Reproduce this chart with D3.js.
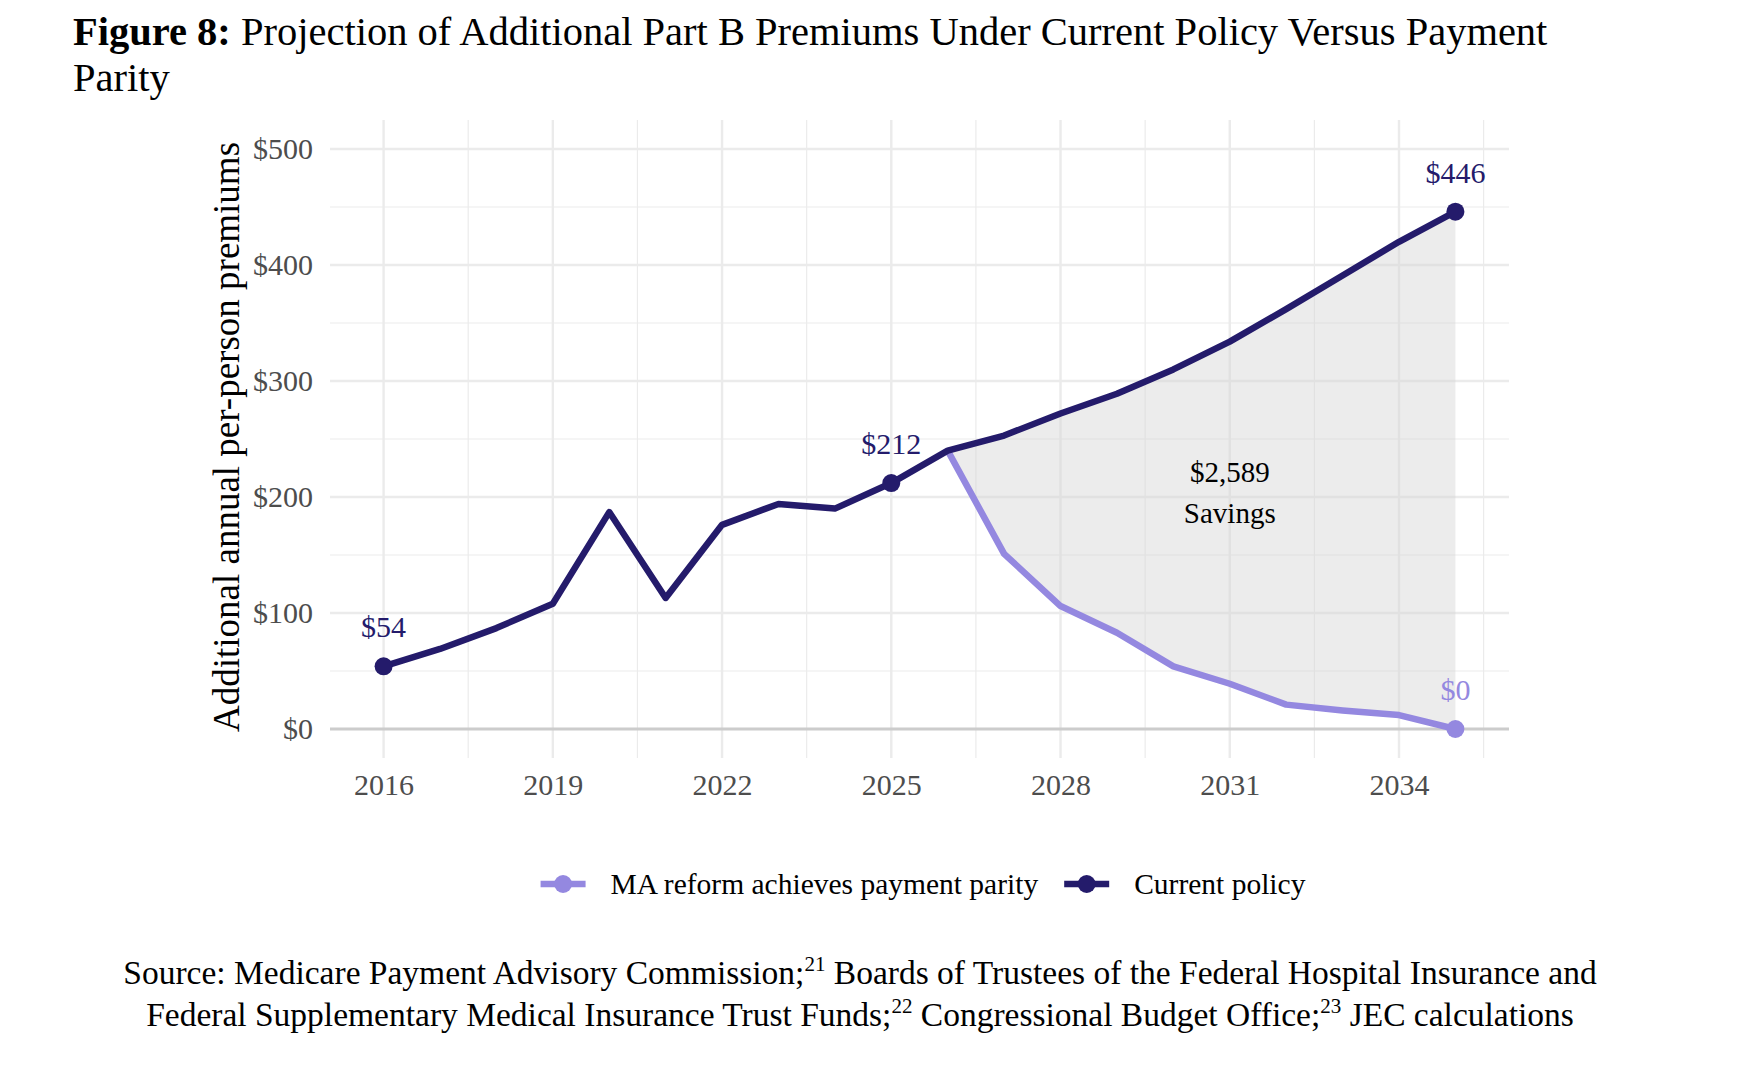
<!DOCTYPE html>
<html>
<head>
<meta charset="utf-8">
<script src="https://cdn.jsdelivr.net/npm/d3@7.9.0/dist/d3.min.js"></script>
<style>
  body { margin: 0; background: #fff; }
  svg { font-family: "Liberation Serif", "Times New Roman", serif; }
</style>
</head>
<body>
<svg width="1742" height="1076"></svg>
<script>
// years and series values
const years = d3.range(2016, 2036);
const currentPolicy = [54, 69, 87, 108, 187, 113, 176, 194, 190, 212,
  240, 253, 272, 289, 310, 334, 362, 391, 420, 446];
const reformYears = d3.range(2026, 2036);
const maReform = [240, 151, 106, 83, 54, 39, 21, 16, 12, 0];
const xTicks = [2016, 2019, 2022, 2025, 2028, 2031, 2034];
const yTicks = [0, 100, 200, 300, 400, 500];
const labelYears = [2016, 2025, 2035];

const navy = '#241b6b';
const lavender = '#9488e0';

const svg = d3.select('svg');
const x = d3.scaleLinear().domain([2015.05, 2035.95]).range([330, 1509]);
const y = d3.scaleLinear().domain([-25, 525]).range([758, 120]);

const cur = years.map((yr, i) => ({ year: yr, value: currentPolicy[i] }));
const ma = reformYears.map((yr, i) => ({ year: yr, value: maReform[i] }));

// Title
const title = svg.append('text').attr('x', 73).attr('y', 45)
  .attr('font-size', 40.5).attr('fill', '#000');
title.append('tspan').attr('font-weight', 'bold').text('Figure 8:');
title.append('tspan').text(' Projection of Additional Part B Premiums Under Current Policy Versus Payment');
svg.append('text').attr('x', 73).attr('y', 91).attr('font-size', 40.5).text('Parity');

// grid
const grid = svg.append('g');
const xMinor = d3.range(2017.5, 2036, 3);
const yMinor = d3.range(50, 500, 100);
grid.selectAll('.vmin').data(xMinor).join('line')
  .attr('x1', d => x(d)).attr('x2', d => x(d))
  .attr('y1', y.range()[1]).attr('y2', y.range()[0])
  .attr('stroke', '#ebebeb').attr('stroke-width', 1.2);
grid.selectAll('.hmin').data(yMinor).join('line')
  .attr('x1', x.range()[0]).attr('x2', x.range()[1])
  .attr('y1', d => y(d)).attr('y2', d => y(d))
  .attr('stroke', '#ebebeb').attr('stroke-width', 1.2);
grid.selectAll('.vmaj').data(xTicks).join('line')
  .attr('x1', d => x(d)).attr('x2', d => x(d))
  .attr('y1', y.range()[1]).attr('y2', y.range()[0])
  .attr('stroke', '#ebebeb').attr('stroke-width', 2.4);
grid.selectAll('.hmaj').data(yTicks.filter(d => d > 0)).join('line')
  .attr('x1', x.range()[0]).attr('x2', x.range()[1])
  .attr('y1', d => y(d)).attr('y2', d => y(d))
  .attr('stroke', '#ebebeb').attr('stroke-width', 2.4);

// savings ribbon
const ribbon = ma.map(d => ({ year: d.year, lo: d.value, hi: cur.find(c => c.year === d.year).value }));
svg.append('path').datum(ribbon)
  .attr('d', d3.area().x(d => x(d.year)).y0(d => y(d.lo)).y1(d => y(d.hi)))
  .attr('fill', '#d4d4d4').attr('opacity', 0.45);

// zero line
svg.append('line').attr('x1', x.range()[0]).attr('x2', x.range()[1])
  .attr('y1', y(0)).attr('y2', y(0)).attr('stroke', '#cccccc').attr('stroke-width', 3);

// axes
const xAxis = svg.append('g').attr('transform', `translate(0,${y.range()[0] + 13})`)
  .call(d3.axisBottom(x).tickValues(xTicks).tickFormat(d3.format('d')).tickSize(0));
xAxis.select('.domain').remove();
xAxis.selectAll('text').attr('font-family', '"Liberation Serif", serif')
  .attr('font-size', 30).attr('fill', '#4d4d4d').attr('dy', '0.71em');

const yAxis = svg.append('g').attr('transform', `translate(${x.range()[0] - 14},0)`)
  .call(d3.axisLeft(y).tickValues(yTicks).tickFormat(d => '$' + d).tickSize(0));
yAxis.select('.domain').remove();
yAxis.selectAll('text').attr('font-family', '"Liberation Serif", serif')
  .attr('font-size', 30).attr('fill', '#4d4d4d');

svg.append('text')
  .attr('transform', `translate(239,${(y(500) + y(0)) / 2 - 2}) rotate(-90)`)
  .attr('text-anchor', 'middle').attr('font-size', 37).attr('fill', '#000')
  .text('Additional annual per-person premiums');

// lines
const line = d3.line().x(d => x(d.year)).y(d => y(d.value));
svg.append('path').datum(ma).attr('d', line).attr('fill', 'none')
  .attr('stroke', lavender).attr('stroke-width', 6.5).attr('stroke-linejoin', 'round');
svg.append('path').datum(cur).attr('d', line).attr('fill', 'none')
  .attr('stroke', navy).attr('stroke-width', 6.5).attr('stroke-linejoin', 'round');

// points + labels
const curPts = cur.filter(d => labelYears.includes(d.year));
svg.selectAll('.cp').data(curPts).join('circle')
  .attr('cx', d => x(d.year)).attr('cy', d => y(d.value)).attr('r', 9).attr('fill', navy);
svg.selectAll('.cl').data(curPts).join('text')
  .attr('x', d => x(d.year)).attr('y', d => y(d.value) - 29)
  .attr('text-anchor', 'middle').attr('font-size', 30).attr('fill', navy)
  .text(d => '$' + d.value);
const maEnd = [ma[ma.length - 1]];
svg.selectAll('.mp').data(maEnd).join('circle')
  .attr('cx', d => x(d.year)).attr('cy', d => y(d.value)).attr('r', 9).attr('fill', lavender);
svg.selectAll('.ml').data(maEnd).join('text')
  .attr('x', d => x(d.year)).attr('y', d => y(d.value) - 29)
  .attr('text-anchor', 'middle').attr('font-size', 30).attr('fill', lavender)
  .text(d => '$' + d.value);

// savings annotation
svg.append('text').attr('x', x(2031)).attr('y', y(213))
  .attr('text-anchor', 'middle').attr('font-size', 29).text('$2,589');
svg.append('text').attr('x', x(2031)).attr('y', y(178))
  .attr('text-anchor', 'middle').attr('font-size', 29).text('Savings');

// legend
const legendItems = [
  { label: 'MA reform achieves payment parity', color: lavender },
  { label: 'Current policy', color: navy }
];
const legend = svg.append('g');
let lx = 0;
legendItems.forEach(item => {
  const g = legend.append('g').attr('transform', `translate(${lx},0)`);
  g.append('line').attr('x1', 0).attr('x2', 45).attr('stroke', item.color).attr('stroke-width', 6.5);
  g.append('circle').attr('cx', 22.5).attr('r', 9).attr('fill', item.color);
  const t = g.append('text').attr('x', 70).attr('dy', '0.33em').attr('font-size', 29.5).text(item.label);
  lx += 70 + t.node().getComputedTextLength() + 26;
});
const lw = lx - 26;
legend.attr('transform', `translate(${923 - lw / 2},884)`);

// source
const srcSize = 33.5, supSize = 21, supShift = 13;
const src1 = svg.append('text').attr('x', 860).attr('y', 984).attr('text-anchor', 'middle').attr('font-size', srcSize);
src1.append('tspan').text('Source: Medicare Payment Advisory Commission;');
src1.append('tspan').attr('font-size', supSize).attr('dy', -supShift).text('21');
src1.append('tspan').attr('dy', supShift).text(' Boards of Trustees of the Federal Hospital Insurance and');
const src2 = svg.append('text').attr('x', 860).attr('y', 1026).attr('text-anchor', 'middle').attr('font-size', srcSize);
src2.append('tspan').text('Federal Supplementary Medical Insurance Trust Funds;');
src2.append('tspan').attr('font-size', supSize).attr('dy', -supShift).text('22');
src2.append('tspan').attr('dy', supShift).text(' Congressional Budget Office;');
src2.append('tspan').attr('font-size', supSize).attr('dy', -supShift).text('23');
src2.append('tspan').attr('dy', supShift).text(' JEC calculations');
</script>
</body>
</html>
